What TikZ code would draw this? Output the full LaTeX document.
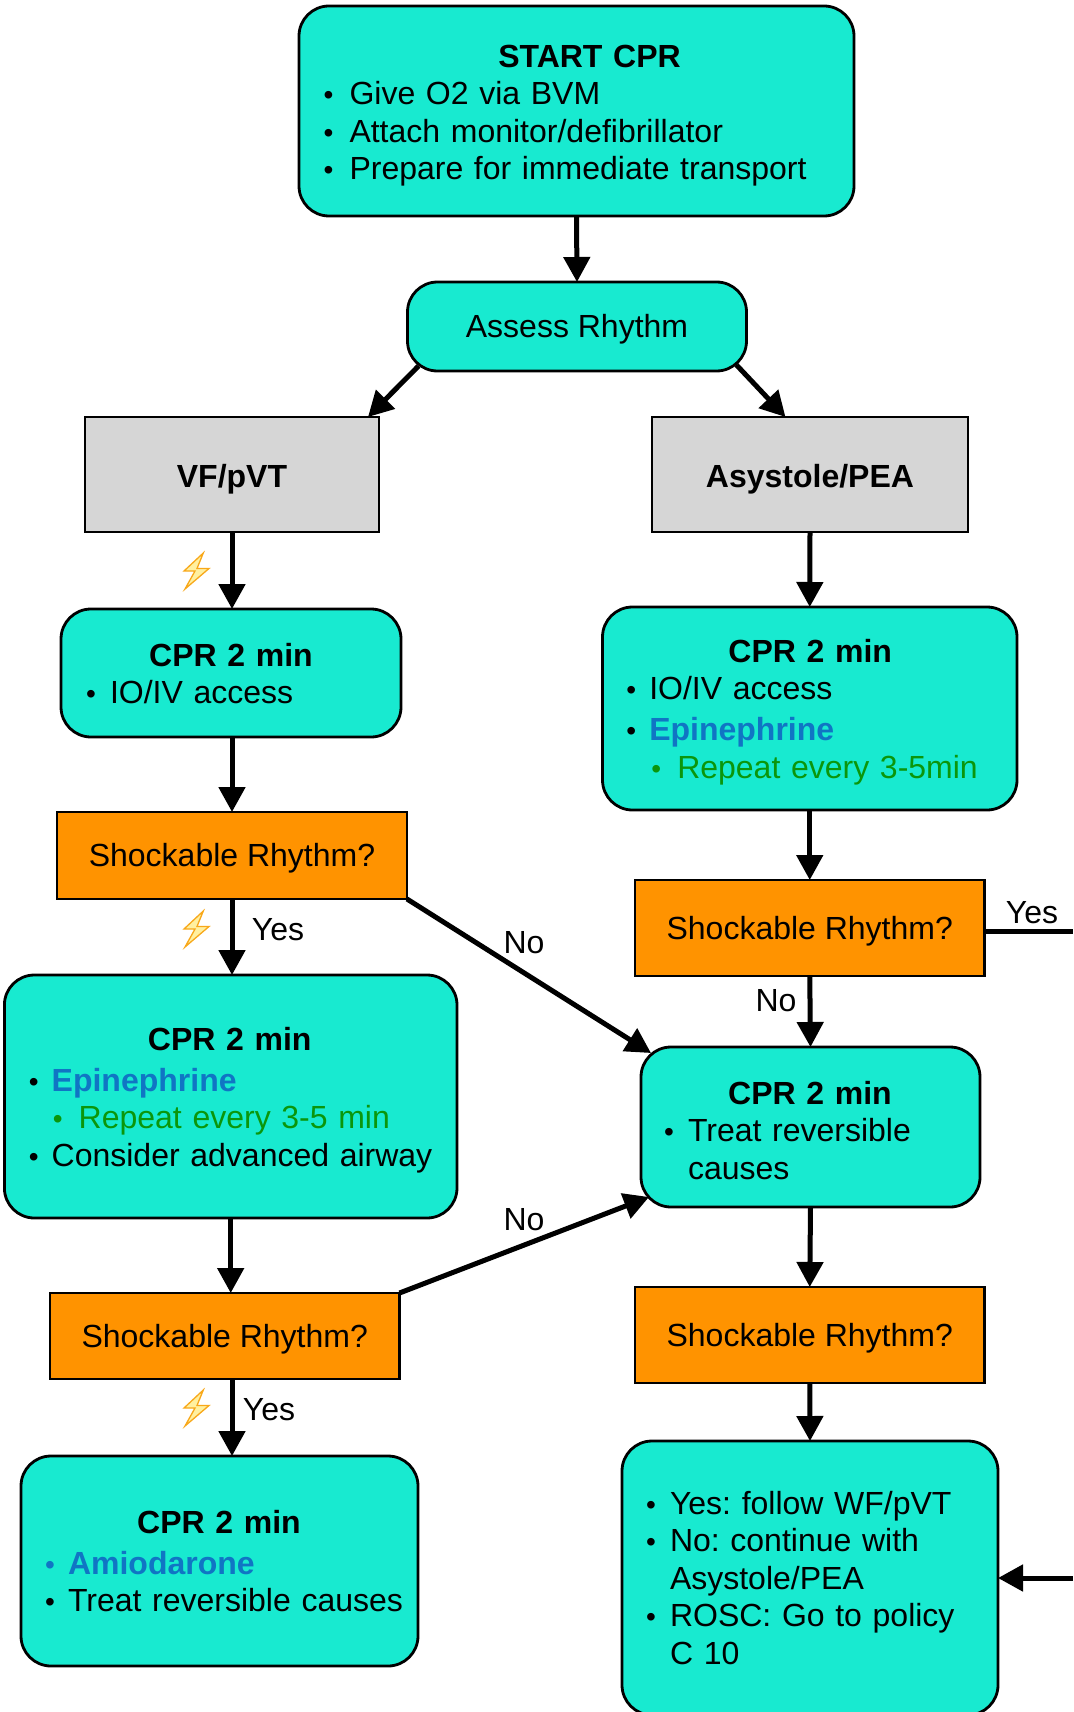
\documentclass[tikz,border=0pt]{standalone}
\usepackage{fontspec}
\setmainfont{Liberation Sans}
\usetikzlibrary{arrows.meta}
\definecolor{tealfill}{HTML}{18EAD0}
\definecolor{orangefill}{HTML}{FF9300}
\definecolor{greyfill}{HTML}{D6D6D6}
\definecolor{drugblue}{HTML}{1075C4}
\definecolor{repgreen}{HTML}{0B960B}
\definecolor{boltline}{HTML}{F8A81A}
\definecolor{boltfill}{HTML}{FFF0A0}
\newcommand{\topgap}[1]{\rule{0pt}{#1pt}}
\newcommand{\ttl}[2]{\mbox{\kern#1pt\makebox[0pt][c]{\textbf{#2}}}}
\newcommand{\smallbul}{\makebox[0pt][c]{\fontsize{28}{28}\selectfont •}}
\newcommand{\itm}[3]{\mbox{\kern#1pt\smallbul\kern\dimexpr#2pt-#1pt\relax #3}}
\newcommand{\cont}[2]{\mbox{\kern#1pt #2}}
\newcommand{\vc}[2][-11pt]{\raisebox{#1}[0pt][0pt]{#2}}
\tikzset{
  base/.style={draw=black,outer sep=0pt,inner xsep=0pt,inner ysep=0pt,font=\fontsize{32}{37.5}\selectfont\frenchspacing,text=black},
  tealbox/.style={base,fill=tealfill,line width=2.8pt,rounded corners=30pt,align=left},
  tealcenter/.style={base,fill=tealfill,line width=2.8pt,rounded corners=30pt,align=center},
  orangebox/.style={base,fill=orangefill,line width=2.4pt,align=center},
  greybox/.style={base,fill=greyfill,line width=2.8pt,align=center},
  conn/.style={line width=5pt,-{Triangle[length=25pt,width=26pt]}},
  plain/.style={line width=5pt},
  lab/.style={font=\fontsize{32}{37.5}\selectfont,inner sep=0pt,text=black},
  bolt/.pic={\draw[draw=boltline,fill=boltfill,line width=1.3pt,line join=miter]
    (7.3,-18) -- (-12,0) -- (-1,0) -- (-11,18) -- (13,-2.5) -- (1,-2.5) -- cycle;}
}
\begin{document}
\begin{tikzpicture}[x=1pt,y=-1pt]
\useasboundingbox (0,0) rectangle (1073,1712);
\clip (0,0) rectangle (1073,1712);
% boxes
\node[tealbox,minimum width=555pt,minimum height=210pt,text width=496pt] (start) at (576.5,111)
  {\topgap{32}\ttl{261}{START CPR}\\\itm{0}{21}{Give O2 via BVM}\\\itm{0}{21}{Attach monitor/defibrillator}\\\itm{0}{21}{Prepare for immediate transport}};
\node[tealcenter,minimum width=339pt,minimum height=89pt] (assess) at (577,326.5) {\vc{Assess Rhythm}};
\node[greybox,minimum width=294pt,minimum height=115pt] (vf) at (232,474.5) {\vc[-12.5pt]{\textbf{VF/pVT}}};
\node[greybox,minimum width=316pt,minimum height=115pt] (asys) at (810,474.5) {\vc[-12.5pt]{\textbf{Asystole/PEA}}};
\node[tealbox,minimum width=340pt,minimum height=128pt,text width=280pt] (cprA) at (231,673)
  {\topgap{24}\ttl{140}{CPR 2 min}\\\itm{0}{19}{IO/IV access}};
\node[tealbox,minimum width=414.5pt,minimum height=203pt,text width=357pt] (cprB) at (809.75,708.5)
  {\topgap{30}\ttl{179}{CPR 2 min}\\\itm{0}{18}{IO/IV access}\\[3.3pt]\itm{0}{18}{\textcolor{drugblue}{\textbf{Epinephrine}}}\\{\color{repgreen}\itm{25}{46}{Repeat every 3-5min}}};
\node[orangebox,minimum width=350pt,minimum height=87pt] (shockA) at (232,855.5) {\vc{Shockable Rhythm?}};
\node[orangebox,minimum width=349.5pt,minimum height=96pt] (shockB) at (809.75,928) {\vc{Shockable Rhythm?}};
\node[tealbox,minimum width=452.6pt,minimum height=243pt,text width=394pt] (cprC) at (230.7,1096.5)
  {\topgap{30}\ttl{196}{CPR 2 min}\\[3.3pt]\itm{0}{18}{\textcolor{drugblue}{\textbf{Epinephrine}}}\\{\color{repgreen}\itm{24}{45}{Repeat every 3-5 min}}\\\itm{0}{18}{Consider advanced airway}};
\node[tealbox,minimum width=339pt,minimum height=160pt,text width=283pt] (cprD) at (810.5,1127)
  {\topgap{30}\ttl{141}{CPR 2 min}\\\itm{0}{19}{Treat reversible}\\\cont{19}{causes}};
\node[orangebox,minimum width=349.5pt,minimum height=86pt] (shockC) at (224.75,1336) {\vc{Shockable Rhythm?}};
\node[orangebox,minimum width=349.5pt,minimum height=96pt] (shockD) at (809.75,1335) {\vc{Shockable Rhythm?}};
\node[tealbox,minimum width=397pt,minimum height=210pt,text width=339pt] (cprE) at (219.5,1561)
  {\ttl{169}{CPR 2 min}\\[3.3pt]{\color{drugblue}\itm{0}{18}{\textbf{Amiodarone}}}\\\itm{0}{18}{Treat reversible causes}};
\node[tealbox,minimum width=376pt,minimum height=274pt,text width=318pt] (final) at (810,1578)
  {\itm{0}{19}{Yes: follow WF/pVT}\\\itm{0}{19}{No: continue with}\\\cont{19}{Asystole/PEA}\\\itm{0}{19}{ROSC: Go to policy}\\\cont{19}{C 10}};
% free ends
\coordinate (yesout) at (1073,931);
\coordinate (finalin) at (1073,1578);
% connectors
\draw[conn] (start.south) -- (assess.north);
\draw[conn] ([xshift=11pt,yshift=5pt]assess.south west) -- ([xshift=136pt]vf.north);
\draw[conn] ([xshift=-10pt,yshift=6pt]assess.south east) -- ([xshift=133.5pt]asys.north west);
\draw[conn] (vf.south) -- ([xshift=1pt]cprA.north);
\draw[conn] ([xshift=1pt]cprA.south) -- (shockA.north);
\draw[conn] (shockA.south) -- ([xshift=1.3pt]cprC.north);
\draw[conn] (shockA.south east) -- ([xshift=10pt,yshift=-6pt]cprD.north west);
\draw[conn] (cprC.south) -- (cprC.south |- shockC.north);
\draw[conn] ([xshift=7.25pt]shockC.south) -- ([xshift=12.5pt]cprE.north);
\draw[conn] (shockC.north east) -- ([xshift=8pt,yshift=10pt]cprD.south west);
\draw[conn] (asys.south) -- (cprB.north);
\draw[conn] (cprB.south) -- (shockB.north);
\draw[conn] (shockB.south) -- (cprD.north);
\draw[conn] (cprD.south) -- (shockD.north);
\draw[conn] (shockD.south) -- (final.north);
\draw[plain] ([yshift=-3pt]shockB.east) -- (yesout);
\draw[conn] (finalin) -- (final.east);
% labels
\node[lab] (yesA) at (278,930) {Yes};
\node[lab] (noA) at (524,943) {No};
\node[lab] (yesB) at (1032,913) {Yes};
\node[lab] (noB) at (776,1001) {No};
\node[lab] (noC) at (524,1220) {No};
\node[lab] (yesC) at (269,1410) {Yes};
% bolts
\pic at (196,571) {bolt};
\pic at (196,929) {bolt};
\pic at (196,1408) {bolt};
\end{tikzpicture}
\end{document}
